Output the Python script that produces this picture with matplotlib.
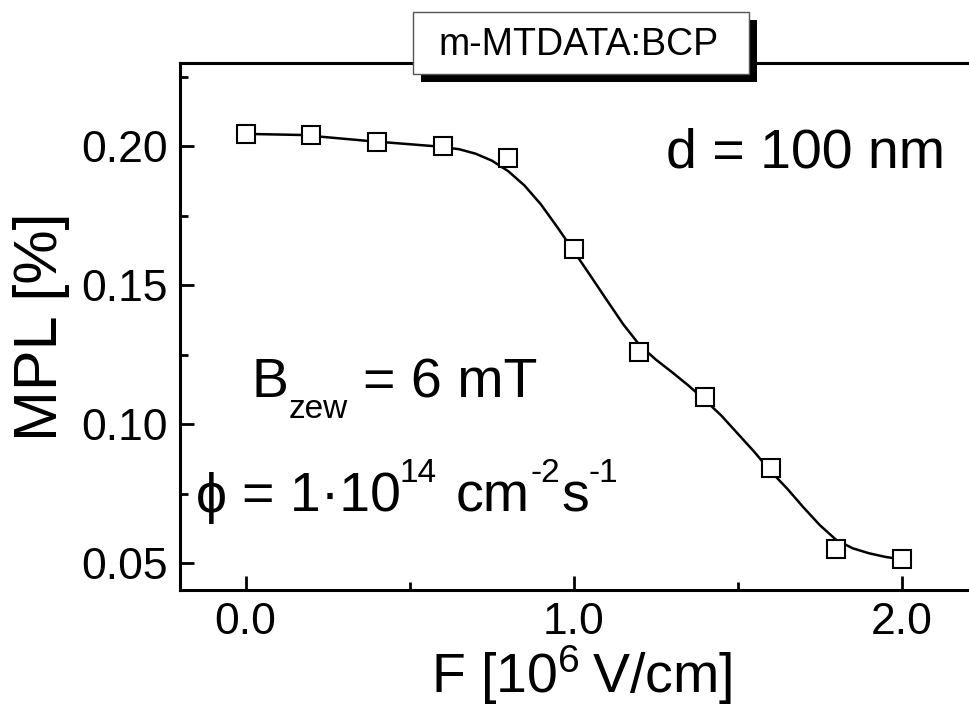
import matplotlib
matplotlib.use("Agg")
import matplotlib.pyplot as plt
from matplotlib.patches import Rectangle
import numpy as np

plt.rcParams['font.family'] = ['Liberation Sans', 'DejaVu Sans']
plt.rcParams['mathtext.fontset'] = 'custom'
plt.rcParams['mathtext.rm'] = 'Liberation Sans'
plt.rcParams['mathtext.it'] = 'Liberation Sans'
plt.rcParams['mathtext.default'] = 'rm'

# measured points
field = [0.0, 0.2, 0.4, 0.6, 0.8, 1.0, 1.2, 1.4, 1.6, 1.8, 2.0]
mpl_val = [0.2044, 0.2041, 0.2016, 0.2000, 0.1958, 0.1629, 0.1260,
           0.1097, 0.0843, 0.0551, 0.0513]

# fit curve
fit_x = [0.0, 0.171, 0.369, 0.572, 0.65, 0.70, 0.75, 0.80, 0.85, 0.90,
         0.95, 1.00, 1.05, 1.10, 1.15, 1.20, 1.25, 1.30, 1.35, 1.40,
         1.45, 1.50, 1.55, 1.60, 1.65, 1.70, 1.75, 1.80, 1.85, 1.90,
         1.95, 2.0]
fit_y = [0.2044, 0.2040, 0.2019, 0.2000, 0.1989, 0.1973, 0.1948, 0.1910,
         0.1858, 0.1790, 0.1708, 0.1622, 0.1535, 0.1447, 0.1360, 0.1285,
         0.1232, 0.1186, 0.1138, 0.1086, 0.1030, 0.0965, 0.0900, 0.0830,
         0.0768, 0.0700, 0.0636, 0.0583, 0.0553, 0.0535, 0.0522, 0.0513]

xticks = [0.0, 1.0, 2.0]
xticklabels = ['0.0', '1.0', '2.0']
yticks = [0.05, 0.10, 0.15, 0.20]
yticklabels = ['0.05', '0.10', '0.15', '0.20']

W, H = 969, 721
fig = plt.figure(figsize=(W / 100, H / 100), dpi=100)
ax = fig.add_axes([180 / W, 131 / H, 804 / W, 527 / H])

ax.plot(fit_x, fit_y, color='black', lw=1.8, zorder=2)
ax.plot(field, mpl_val, ls='none', marker='s', ms=12.5, mfc='white',
        mec='black', mew=1.5, zorder=3)

ax.set_xlim(-0.2, 2.25)
ax.set_ylim(0.0403, 0.2299)
ax.set_xticks(xticks)
ax.set_xticklabels(xticklabels)
ax.set_xticks([0.5, 1.5], minor=True)
ax.set_yticks(yticks)
ax.set_yticklabels(yticklabels)
ax.set_yticks([0.075, 0.125, 0.175, 0.225], minor=True)

ax.spines['right'].set_visible(False)
for s in ['left', 'bottom', 'top']:
    ax.spines[s].set_linewidth(2.2)
ax.tick_params(which='both', direction='in', width=2, labelsize=32)
ax.tick_params(which='major', length=10)
ax.tick_params(which='minor', length=6)
ax.tick_params(axis='y', pad=9)
ax.tick_params(axis='x', pad=9)

ax.set_ylabel('MPL [%]', fontsize=44, labelpad=8)
ax.set_xlabel('F [10$^{6}$\u2009V/cm]', fontsize=40, labelpad=0)


def put(x, y, s, size=40):
    # x, y in pixels from the top left, y is the baseline
    fig.text(x / W, 1 - y / H, s, fontsize=size, ha='left', va='baseline')


fig.text(945 / W, 1 - 168 / H, 'd = 100 nm', fontsize=40,
         ha='right', va='baseline')

put(251, 397, 'B')
put(289, 418, 'zew', 24)
put(363, 397, '= 6 mT')

put(196, 512, '\u03d5')
put(242, 512, '= 1\u00b710')
put(400, 482, '14', 24)
put(456, 512, 'cm')
put(531, 482, '-2', 24)
put(561, 512, 's')
put(588, 482, '-1', 24)

# title box with shadow
fig.add_artist(Rectangle((421 / W, 1 - 82 / H), 336 / W, 62 / H,
                         transform=fig.transFigure, facecolor='black',
                         edgecolor='none', zorder=5))
fig.add_artist(Rectangle((413 / W, 1 - 74 / H), 336 / W, 62 / H,
                         transform=fig.transFigure, facecolor='white',
                         edgecolor='#555555', lw=1, zorder=6))
fig.text(579 / W, 1 - 55 / H, 'm-MTDATA:BCP', fontsize=27,
         ha='center', va='baseline', zorder=7)

fig.savefig('out.png', dpi=100)
